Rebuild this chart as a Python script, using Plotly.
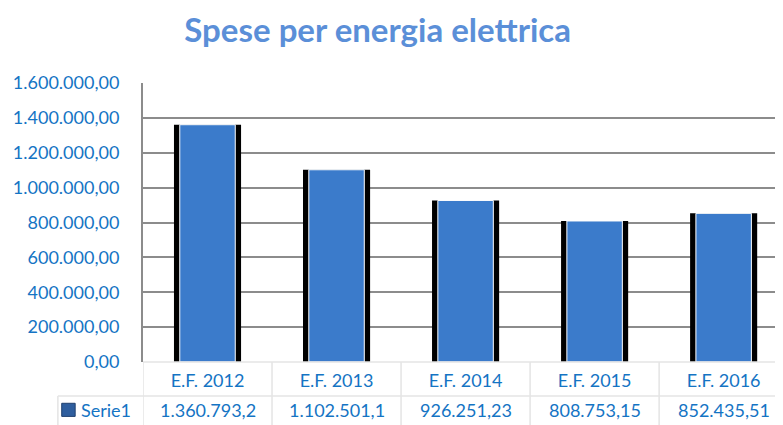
import plotly.graph_objects as go

# data
categorie = ["E.F. 2012", "E.F. 2013", "E.F. 2014", "E.F. 2015", "E.F. 2016"]
spese = [1360793.20, 1102501.10, 926251.23, 808753.15, 852435.51]
tick_vals = [0, 200000, 400000, 600000, 800000, 1000000, 1200000, 1400000, 1600000]
serie_nome = "Serie1"


def fmt_it(v):
    # formato italiano: 1.234.567,89
    s = f"{v:,.2f}"
    return s.replace(",", "X").replace(".", ",").replace("X", ".")


tick_text = [fmt_it(v) for v in tick_vals]
# la cella della tabella taglia il testo come in Excel
cell_text = [fmt_it(v)[:11] for v in spese]

FONT = "Lato, 'Open Sans', sans-serif"
BLU_TESTO = "#1474C4"
GRIGIO_TAB = "#E4E4E4"

fig = go.Figure()

# "ombra" nera dietro le barre
fig.add_trace(go.Bar(
    x=categorie, y=spese, width=0.52,
    marker=dict(color="black", line=dict(width=0)),
    hoverinfo="skip", showlegend=False,
))
# barre blu
fig.add_trace(go.Bar(
    x=categorie, y=spese, width=0.43, name=serie_nome,
    marker=dict(color="#3B7BCB", line=dict(color="white", width=1)),
    showlegend=False,
))

# tabella dati sotto il grafico
shapes = []
n = len(categorie)
for i in range(n + 1):
    shapes.append(dict(type="line", xref="x", yref="paper",
                       x0=i - 0.5, x1=i - 0.5, y0=0, y1=-0.23,
                       line=dict(color=GRIGIO_TAB, width=1.5)))
shapes.append(dict(type="line", xref="paper", yref="paper",
                   x0=-0.133, x1=1, y0=-0.122, y1=-0.122,
                   line=dict(color=GRIGIO_TAB, width=1.5)))
shapes.append(dict(type="line", xref="paper", yref="paper",
                   x0=-0.133, x1=-0.133, y0=-0.122, y1=-0.23,
                   line=dict(color=GRIGIO_TAB, width=1.5)))
shapes.append(dict(type="line", xref="paper", yref="paper",
                   x0=0, x1=1, y0=0, y1=0,
                   line=dict(color=GRIGIO_TAB, width=1.5)))
# chiave legenda
shapes.append(dict(type="rect", xref="paper", yref="paper",
                   x0=-0.127, x1=-0.106, y0=-0.195, y1=-0.148,
                   fillcolor="#2F5E9E", line=dict(color="#1F3F6E", width=1)))

annotations = []
for c, t in zip(categorie, cell_text):
    annotations.append(dict(x=c, y=-0.172, xref="x", yref="paper",
                            text=t, showarrow=False, yanchor="middle",
                            font=dict(family=FONT, size=18, color=BLU_TESTO)))
annotations.append(dict(x=-0.1, y=-0.172, xref="paper", yref="paper",
                        text=serie_nome, showarrow=False, xanchor="left",
                        yanchor="middle",
                        font=dict(family=FONT, size=18, color=BLU_TESTO)))

# la pagina ha 8px di margine: la figura e' ridotta di conseguenza
fig.update_layout(
    width=775, height=417,
    margin=dict(l=135, r=0, t=75, b=63, autoexpand=False),
    paper_bgcolor="white", plot_bgcolor="white",
    barmode="overlay",
    title=dict(text="<b>Spese per energia elettrica</b>", x=0.477, xanchor="center",
               y=0.945, yanchor="middle", automargin=False,
               font=dict(family=FONT, size=33, color="#5B8FD8")),
    xaxis=dict(range=[-0.5, 4.46], showgrid=False, showline=False,
               ticks="", ticklabelstandoff=6, automargin=False,
               tickfont=dict(family=FONT, size=18, color=BLU_TESTO)),
    yaxis=dict(range=[0, 1600000], tickvals=tick_vals, ticktext=tick_text,
               showgrid=True, gridcolor="#8C8C8C", gridwidth=2,
               showline=True, linecolor="#8C8C8C", linewidth=2,
               zeroline=False, ticks="", ticklabelstandoff=18, automargin=False,
               tickfont=dict(family=FONT, size=18, color=BLU_TESTO)),
    shapes=shapes,
    annotations=annotations,
    font=dict(family=FONT),
)

fig.write_html("out.html")
